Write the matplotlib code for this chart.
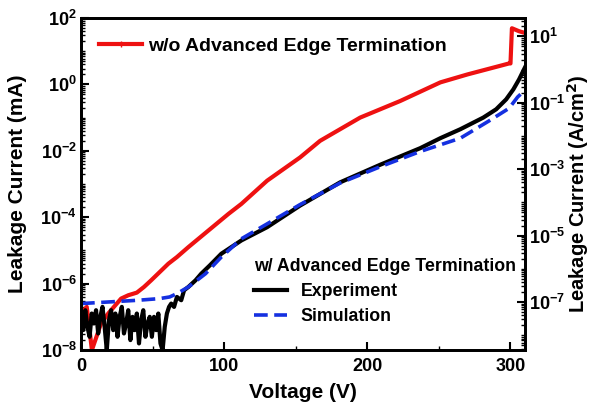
import numpy as np
import matplotlib.pyplot as plt
from matplotlib.lines import Line2D
from matplotlib.ticker import LogLocator, NullFormatter

plt.rcParams['font.family'] = ['Liberation Sans', 'DejaVu Sans']
plt.rcParams['font.weight'] = 'bold'
plt.rcParams['mathtext.default'] = 'bf'

# w/o advanced edge termination (red), log10 of current in mA
v_red = [2, 4, 6, 7.6, 10, 14, 19, 25, 28, 33, 39, 44, 49, 55, 61, 67, 75, 89, 103,
         112, 130, 153, 167, 195, 223, 251, 270, 292, 299, 300, 301, 306, 310]
log_red = [-6.8, -6.7, -7.4, -8.0, -7.7, -7.2, -6.9, -6.6, -6.45, -6.35, -6.27, -6.1,
           -5.9, -5.65, -5.4, -5.2, -4.9, -4.4, -3.9, -3.6, -2.9, -2.2, -1.7, -1.0,
           -0.5, 0.06, 0.3, 0.55, 0.63, 0.63, 1.69, 1.6, 1.55]

# w/ advanced edge termination, experiment (black)
v_exp = [0, 1.5, 3, 4.5, 6, 7.5, 9, 10.5, 12, 13.5, 15, 16.5, 18, 19.5, 21, 22.5, 24,
         25.5, 27, 28.5, 30, 31.5, 33, 34.5, 36, 37.5, 39, 40.5, 42, 43.5, 45, 46.5,
         48, 49.5, 51, 52.5, 54, 55.5, 57, 58.5, 60, 61.5, 63, 65, 67, 70, 72, 75, 80,
         84, 90, 98, 105, 112, 130, 153, 181, 209, 237, 251, 265, 281, 290, 297, 302,
         306, 310]
log_exp = [-7.0, -7.4, -6.8, -7.3, -7.6, -6.9, -7.2, -6.8, -7.5, -7.0, -6.7, -7.3,
           -8.0, -7.1, -6.8, -7.4, -6.9, -7.6, -7.0, -6.7, -7.5, -7.2, -6.8, -7.7,
           -7.0, -7.4, -6.9, -7.8, -7.1, -6.8, -7.6, -7.2, -7.0, -7.6, -7.0, -7.4,
           -6.9, -7.8, -8.0, -7.3, -6.9, -6.7, -6.6, -6.7, -6.4, -6.5, -6.2, -6.1,
           -5.9, -5.7, -5.45, -5.1, -4.9, -4.7, -4.3, -3.65, -2.95, -2.42, -1.92,
           -1.62, -1.35, -1.0, -0.75, -0.45, -0.15, 0.15, 0.5]

# w/ advanced edge termination, simulation (blue dashed)
v_sim = [0, 20, 40, 55, 62, 67, 75, 87, 98, 112, 130, 153, 181, 209, 237, 265, 285,
         299, 305, 310]
log_sim = [-6.6, -6.55, -6.5, -6.45, -6.4, -6.3, -6.1, -5.7, -5.2, -4.65, -4.2, -3.62,
           -2.97, -2.48, -2.02, -1.62, -1.1, -0.72, -0.38, -0.18]

area_factor = 0.36  # mA -> A/cm^2
dash = (0, (3.8, 1.8))

fig = plt.figure(figsize=(5.93, 4.08), dpi=100)
ax = fig.add_axes([0.1366, 0.142, 0.7484, 0.814])

ax.plot(v_red, 10 ** np.array(log_red), color='#ee1111', lw=3)
ax.plot(v_exp, 10 ** np.array(log_exp), color='black', lw=3)
ax.plot(v_sim, 10 ** np.array(log_sim), color='#1530e0', lw=2.6, ls=dash)

ax.set_yscale('log')
ax.set_xlim(0, 310)
ax.set_ylim(1e-8, 1e2)
ax.set_xticks([0, 100, 200, 300])
ax.set_xticks([50, 150, 250], minor=True)
ax.yaxis.set_major_locator(LogLocator(base=100, numticks=10))
ax.yaxis.set_minor_locator(LogLocator(base=10, subs=np.arange(1, 10), numticks=30))
ax.yaxis.set_minor_formatter(NullFormatter())

ax.set_xlabel('Voltage (V)', fontsize=15, fontweight='bold')
ax.set_ylabel('Leakage Current (mA)', fontsize=15, fontweight='bold', va='center')
ax.xaxis.set_label_coords(0.5, -0.1)
ax.yaxis.set_label_coords(-0.142, 0.5)

ax2 = ax.twinx()
ax2.set_yscale('log')
ax2.set_ylim(1e-8 * area_factor, 1e2 * area_factor)
ax2.set_yticks([1e1, 1e-1, 1e-3, 1e-5, 1e-7])
ax2.yaxis.set_minor_locator(LogLocator(base=10, subs=np.arange(1, 10), numticks=30))
ax2.yaxis.set_minor_formatter(NullFormatter())
ax2.set_ylabel('Leakage Current (A/cm$^\\mathbf{2}$)', fontsize=14.5, fontweight='bold',
               va='center')
ax2.yaxis.set_label_coords(1.12, 0.47)

for a in (ax, ax2):
    a.tick_params(which='major', direction='in', length=6, width=1.5, labelsize=13)
    a.tick_params(which='minor', direction='in', length=3, width=1.0)
    for s in a.spines.values():
        s.set_linewidth(2)
ax.tick_params(axis='x', pad=6)
ax.tick_params(axis='y', pad=3)
ax2.tick_params(axis='y', pad=3)

h_red = Line2D([], [], color='#ee1111', lw=3, marker='|', markersize=5, markeredgewidth=1)
leg1 = ax.legend([h_red], ['w/o Advanced Edge Termination'], loc='upper left',
                 bbox_to_anchor=(0.015, 0.978), frameon=False, fontsize=14,
                 handlelength=2.2, handletextpad=0.3, borderaxespad=0.2)
ax.add_artist(leg1)

h_exp = Line2D([], [], color='black', lw=3)
h_sim = Line2D([], [], color='#1530e0', lw=2.6, ls=dash)
leg2 = ax.legend([h_exp, h_sim], ['Experiment', 'Simulation'], loc='lower right',
                 bbox_to_anchor=(1.005, 0.044), frameon=False, fontsize=12.8,
                 title='w/ Advanced Edge Termination',
                 title_fontproperties={'size': 12.8, 'weight': 'bold'},
                 handlelength=1.85, handletextpad=0.75, labelspacing=0.45,
                 borderaxespad=0.2, alignment='left')

fig.savefig('out.png', dpi=100)
